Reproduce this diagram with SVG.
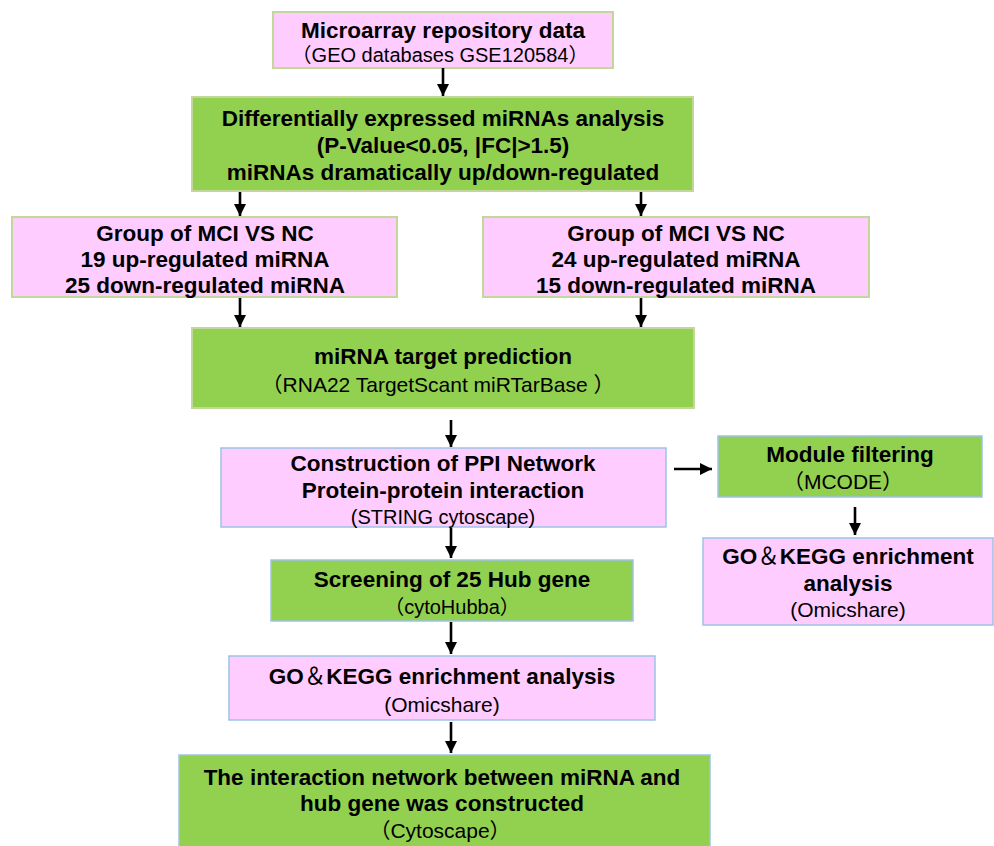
<svg xmlns="http://www.w3.org/2000/svg" width="994" height="846" viewBox="0 0 994 846">
<style>
.pink{fill:#FFCCFF}
.green{fill:#92D050}
.bg{stroke:#C4D79B;stroke-width:2}
.bb{stroke:#9DC3E6;stroke-width:1.5}
text{font-family:"Liberation Sans","Noto Sans CJK SC",Arial,sans-serif;text-anchor:middle;fill:#000}
.b{font-weight:bold;font-size:22.5px}
.n{font-weight:normal;font-size:21px}
.s{font-size:20px}
.conn line{stroke:#000;stroke-width:2.6;marker-end:url(#ah)}
</style>
<defs>
<marker id="ah" markerUnits="userSpaceOnUse" markerWidth="14" markerHeight="12" refX="12" refY="6" orient="auto">
<path d="M0,0 L12,6 L0,12 Z" fill="#000"/>
</marker>
</defs>
<rect width="994" height="846" fill="#fff"/>
<g id="n1">
<rect class="pink bg" x="273" y="12" width="340" height="56"/>
<text class="b" x="443" y="38">Microarray repository data</text>
<text class="n s" x="440" y="62">（GEO databases GSE120584）</text>
</g>
<g id="n2">
<rect class="green bg" x="192" y="97" width="501" height="94"/>
<text class="b" x="443" y="126">Differentially expressed miRNAs analysis</text>
<text class="b" x="443" y="153">(P-Value&lt;0.05, |FC|&gt;1.5)</text>
<text class="b" x="443" y="180">miRNAs dramatically up/down-regulated</text>
</g>
<g id="n3a">
<rect class="pink bg" x="12" y="217" width="385" height="80"/>
<text class="b" x="205" y="241">Group of MCI VS NC</text>
<text class="b" x="205" y="267">19 up-regulated miRNA</text>
<text class="b" x="205" y="293">25 down-regulated miRNA</text>
</g>
<g id="n3b">
<rect class="pink bg" x="483" y="217" width="386" height="80"/>
<text class="b" x="676" y="241">Group of MCI VS NC</text>
<text class="b" x="676" y="267">24 up-regulated miRNA</text>
<text class="b" x="676" y="293">15 down-regulated miRNA</text>
</g>
<g id="n4">
<rect class="green bg" x="192" y="328" width="502" height="80"/>
<text class="b" x="443" y="364">miRNA target prediction</text>
<text class="n" x="438" y="392">（RNA22 TargetScant miRTarBase ）</text>
</g>
<g id="n5">
<rect class="pink bb" x="221" y="448" width="445" height="79"/>
<text class="b" x="443" y="471">Construction of PPI Network</text>
<text class="b" x="443" y="498">Protein-protein interaction</text>
<text class="n s" x="443" y="524">(STRING cytoscape)</text>
</g>
<g id="n6">
<rect class="green bb" x="718" y="436" width="264" height="61"/>
<text class="b" x="850" y="462">Module filtering</text>
<text class="n" x="843" y="489">（MCODE）</text>
</g>
<g id="n7">
<rect class="pink bb" x="703" y="538" width="290" height="87"/>
<text class="b" x="848" y="564">GO<tspan font-weight="normal">＆</tspan>KEGG enrichment</text>
<text class="b" x="848" y="591">analysis</text>
<text class="n" x="848" y="617">(Omicshare)</text>
</g>
<g id="n8">
<rect class="green bb" x="271" y="560" width="362" height="61"/>
<text class="b" x="452" y="587">Screening of 25 Hub gene</text>
<text class="n s" x="452" y="614">（cytoHubba）</text>
</g>
<g id="n9">
<rect class="pink bb" x="229" y="656" width="426" height="64"/>
<text class="b" x="442" y="684">GO<tspan font-weight="normal">＆</tspan>KEGG enrichment analysis</text>
<text class="n" x="442" y="712">(Omicshare)</text>
</g>
<g id="n10">
<rect class="green bb" x="179" y="755" width="531" height="95"/>
<text class="b" x="442" y="785">The interaction network between miRNA and</text>
<text class="b" x="442" y="811">hub gene was constructed</text>
<text class="n" x="440" y="838">（Cytoscape）</text>
</g>
<g id="connectors" class="conn">
<line x1="443" y1="68" x2="443" y2="96"/>
<line x1="240" y1="192" x2="240" y2="216"/>
<line x1="641" y1="192" x2="641" y2="216"/>
<line x1="240" y1="298" x2="240" y2="327"/>
<line x1="641" y1="298" x2="641" y2="327"/>
<line x1="451" y1="420" x2="451" y2="447"/>
<line x1="674" y1="469" x2="712" y2="469"/>
<line x1="855" y1="507" x2="855" y2="535"/>
<line x1="451" y1="528" x2="451" y2="558"/>
<line x1="451" y1="622" x2="451" y2="654"/>
<line x1="451" y1="722" x2="451" y2="753"/>
</g>
</svg>
